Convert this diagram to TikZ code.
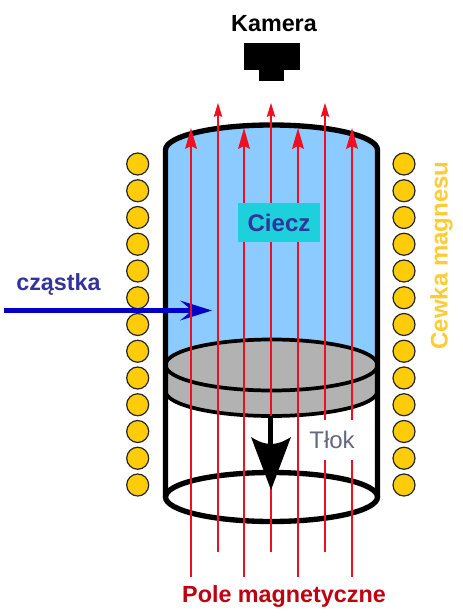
\documentclass[tikz,border=0pt]{standalone}
\usepackage{fontspec}
\setmainfont{Liberation Sans}
\definecolor{liquid}{HTML}{8CCBFF}
\definecolor{pistongrey}{HTML}{B2B2B2}
\definecolor{coilfill}{HTML}{FFCC0A}
\definecolor{coiltext}{HTML}{FFCC33}
\definecolor{fieldred}{HTML}{EE1020}
\definecolor{fieldlabel}{HTML}{C00010}
\definecolor{inkblue}{HTML}{333399}
\definecolor{tloktext}{HTML}{66667F}
\definecolor{beamblue}{HTML}{0000C8}
\definecolor{labelbox}{HTML}{1CD0DC}
\tikzset{
  x=0.75pt,y=-0.75pt,
  coil/.style={circle,draw=black!85,fill=coilfill,line width=0.9pt,minimum size=16.5pt,inner sep=0pt},
  wall/.style={draw=black,line width=4pt},
  pistonline/.style={draw=black,line width=2.8pt},
  fieldline/.style={draw=fieldred,line width=1pt},
  headfill/.style={fill=fieldred,draw=none},
  txt/.style={font=\fontsize{17.5}{20}\selectfont\bfseries,inner sep=0pt},
}
\begin{document}
\begin{tikzpicture}
\useasboundingbox (0,0) rectangle (462,616);
\fill[white] (0,0) rectangle (462,616);
% liquid
\fill[liquid] (165.5,150) arc[start angle=180,end angle=360,x radius=106,y radius=25] -- (377.5,365) -- (165.5,365) -- cycle;
% piston
\path[pistonline,fill=pistongrey] (165.5,365) -- (165.5,391) arc[start angle=180,end angle=0,x radius=106,y radius=25] -- (377.5,365) -- cycle;
\path[pistonline,fill=pistongrey] (271.5,365) ellipse[x radius=106,y radius=25.5];
% body
\draw[wall,line cap=round,line join=round] (165.5,497) -- (165.5,150) arc[start angle=180,end angle=360,x radius=106,y radius=25] -- (377.5,497);
\draw[wall] (271.5,497) ellipse[x radius=106,y radius=24.5];
% coils
\foreach \i in {0,...,12}{
  \node[coil] (l\i) at (137.7,164+26.75*\i) {};
  \node[coil] (r\i) at (404,164+26.75*\i) {};
}
% blue arrow
\coordinate (beamstart) at (4,310.5);
\coordinate (beamend) at (212,310.5);
\draw[beamblue,line width=3.3pt] (beamstart) -- (195,310.5);
\fill[beamblue] (beamend) -- (180,320.5) .. controls (187,315) and (190,312) .. (192,310.5) .. controls (190,309) and (187,306) .. (180,300.5) -- cycle;
% field lines
\foreach \x in {191,244,298,352}{
  \draw[fieldline] (\x,577) -- (\x,145);
  \fill[headfill] (\x,128) -- (\x+6,149) -- (\x,146) -- (\x-6,149) -- cycle;
}
\foreach \x in {218,271,325}{
  \draw[fieldline] (\x,552) -- (\x,115);
  \fill[headfill] (\x,103) -- (\x+4.3,117) -- (\x,115) -- (\x-4.3,117) -- cycle;
}
% piston arrow
\draw[black,line width=3.8pt] (270.5,416) -- (270.5,446);
\fill[black] (271,490) -- (291,437) .. controls (283,442) and (277,444) .. (271,444) .. controls (265,444) and (259,442) .. (251,437) -- cycle;
% camera
\fill[black] (243.5,43) rectangle (299.5,70);
\fill[black] (259,70) rectangle (283.7,81.5);
% labels
\node[txt,text=black] (kamera) at (274,24) {Kamera};
\node[fill=labelbox,minimum width=61.5pt,minimum height=29.25pt,inner sep=0pt,text=inkblue,font=\fontsize{18}{20}\selectfont\bfseries] (ciecz) at (279,222.5) {Ciecz};
\node[txt,text=inkblue] (czastka) at (58.5,284) {cząstka};
\node[fill=white,inner sep=0pt,minimum width=40pt,minimum height=30pt,text=tloktext,font=\fontsize{18}{20}\selectfont] (tlok) at (332,440) {Tłok};
\node[txt,text=fieldlabel] (pole) at (284,597) {Pole magnetyczne};
\node[txt,text=coiltext,font=\fontsize{18}{20}\selectfont\bfseries,rotate=90] (cewka) at (441.5,255.5) {Cewka magnesu};
\end{tikzpicture}
\end{document}
